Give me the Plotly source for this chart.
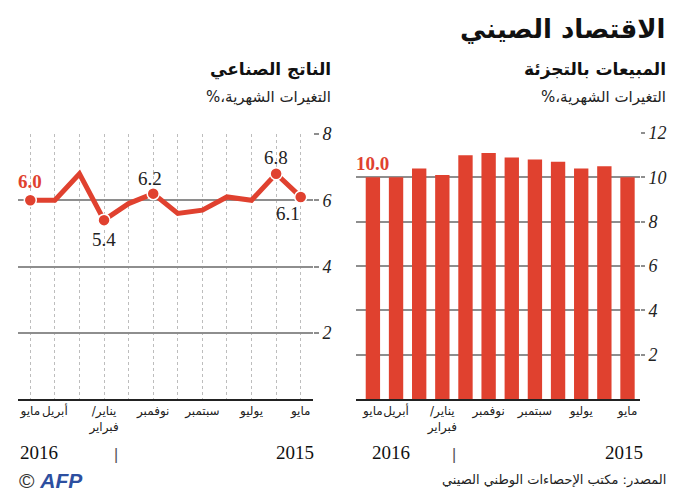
import plotly.graph_objects as go

W, H = 677, 500

# ---------------- data ----------------
months = ["مايو 2016", "أبريل 2016", "مارس 2016", "يناير/فبراير 2016", "ديسمبر 2015",
          "نوفمبر 2015", "أكتوبر 2015", "سبتمبر 2015", "أغسطس 2015", "يوليو 2015",
          "يونيو 2015", "مايو 2015"]
tick_labels = ["مايو", "أبريل", "", "/يناير<br>فبراير", "", "نوفمبر", "",
               "سبتمبر", "", "يوليو", "", "مايو"]
industrial = [6.0, 6.0, 6.8, 5.4, 5.9, 6.2, 5.6, 5.7, 6.1, 6.0, 6.8, 6.1]
retail = [10.0, 10.0, 10.4, 10.1, 11.0, 11.1, 10.9, 10.8, 10.7, 10.4, 10.5, 10.0]
ip_ticks = [2, 4, 6, 8]
retail_ticks = [2, 4, 6, 8, 10, 12]
years = ["2016", "2015"]
title = "الاقتصاد الصيني"
ip_title = "الناتج الصناعي"
retail_title = "المبيعات بالتجزئة"
unit_text = "%،التغيرات الشهرية"
source_text = "المصدر: مكتب الإحصاءات الوطني الصيني"
ip_labeled = [0, 3, 5, 10, 11]

# ---------------- styles ----------------
RED = "#e0412f"
GRID = "#8e8e8e"
ARABIC = "DejaVu Sans"
SERIF = "Liberation Serif"


def px(x):
    return x / W


def py(y):
    return 1 - y / H


fig = go.Figure()

fig.add_trace(go.Scatter(
    x=months, y=industrial, mode="lines",
    line=dict(color=RED, width=5),
    xaxis="x", yaxis="y", hoverinfo="skip", showlegend=False, cliponaxis=False))
fig.add_trace(go.Scatter(
    x=[months[i] for i in ip_labeled], y=[industrial[i] for i in ip_labeled],
    mode="markers",
    marker=dict(color=RED, size=12, line=dict(color="white", width=1.5)),
    xaxis="x", yaxis="y", hoverinfo="skip", showlegend=False, cliponaxis=False))

fig.add_trace(go.Bar(
    x=months, y=retail, marker=dict(color=RED, line=dict(width=0)),
    xaxis="x2", yaxis="y2", hoverinfo="skip", showlegend=False))

tickfont_y = dict(family=SERIF, size=18, color="#222", style="italic")
tickfont_x = dict(family=ARABIC, size=12, color="#222")

fig.update_layout(
    width=W, height=H,
    margin=dict(l=0, r=0, t=0, b=0, autoexpand=False),
    paper_bgcolor="white", plot_bgcolor="white",
    bargap=0.38,
    xaxis=dict(
        domain=[px(18), px(313)], type="category", range=[-0.5, 11.5],
        tickmode="array", tickvals=months, ticktext=tick_labels, tickangle=0,
        showgrid=True, gridcolor="#bdbdbd", griddash="dot", gridwidth=1,
        showline=True, linecolor="#222", linewidth=2, ticks="", automargin=False,
        tickfont=tickfont_x, anchor="y", fixedrange=True, zeroline=False),
    yaxis=dict(
        domain=[py(399), py(134)], range=[0, 8], tickvals=ip_ticks,
        side="right", showgrid=True, gridcolor=GRID, gridwidth=1.5,
        ticks="outside", ticklen=5, tickcolor=GRID, tickwidth=1.5, automargin=False,
        tickfont=tickfont_y, zeroline=False, anchor="x", fixedrange=True),
    xaxis2=dict(
        domain=[px(356), px(640)], type="category", range=[-0.73, 11.54],
        tickmode="array", tickvals=months, ticktext=tick_labels, tickangle=0,
        showgrid=False, showline=True, linecolor="#222", linewidth=2, ticks="",
        automargin=False,
        tickfont=tickfont_x, anchor="y2", fixedrange=True, zeroline=False),
    yaxis2=dict(
        domain=[py(399), py(133)], range=[0, 12], tickvals=retail_ticks,
        side="right", showgrid=True, gridcolor=GRID, gridwidth=1.5,
        ticks="outside", ticklen=4, tickcolor=GRID, tickwidth=1.5, automargin=False,
        tickfont=tickfont_y, zeroline=False, anchor="x2", fixedrange=True),
)

ann = []
# titles
ann.append(dict(text="<b>" + title + "</b>", x=px(668), y=py(29), xanchor="right",
                yanchor="middle", font=dict(family=ARABIC, size=26, color="#111")))
ann.append(dict(text="<b>" + retail_title + "</b>", x=px(668), y=py(69), xanchor="right",
                yanchor="middle", font=dict(family=ARABIC, size=17, color="#111")))
ann.append(dict(text=unit_text, x=px(668), y=py(97), xanchor="right",
                yanchor="middle", font=dict(family=ARABIC, size=15, color="#222")))
ann.append(dict(text="<b>" + ip_title + "</b>", x=px(333), y=py(69), xanchor="right",
                yanchor="middle", font=dict(family=ARABIC, size=17, color="#111")))
ann.append(dict(text=unit_text, x=px(333), y=py(97), xanchor="right",
                yanchor="middle", font=dict(family=ARABIC, size=15, color="#222")))

# data labels: industrial
ip_label_style = {
    0: dict(xs=0, ys=19, color=RED, bold=True),
    3: dict(xs=0, ys=-19, color="#222", bold=False),
    5: dict(xs=-3, ys=15, color="#222", bold=False),
    10: dict(xs=0, ys=16, color="#222", bold=False),
    11: dict(xs=-13, ys=-17, color="#222", bold=False),
}
for i in ip_labeled:
    st = ip_label_style[i]
    t = f"{industrial[i]:.1f}"
    if st["bold"]:
        t = "<b>" + t + "</b>"
    ann.append(dict(text=t, x=months[i], y=industrial[i], xref="x", yref="y",
                    xshift=st["xs"], yshift=st["ys"], xanchor="center", yanchor="middle",
                    font=dict(family=SERIF, size=19, color=st["color"])))
# data label: retail first
ann.append(dict(text="<b>%.1f</b>" % retail[0], x=months[0], y=retail[0], xref="x2", yref="y2",
                yshift=14, xanchor="center", yanchor="middle",
                font=dict(family=SERIF, size=19, color=RED)))

# years
for xa, left_px, right_px in (("x", 18, 316), ("x2", 370, 645)):
    ann.append(dict(text=years[0], x=px(left_px), y=py(452), xanchor="left", yanchor="middle",
                    font=dict(family=SERIF, size=19, color="#111")))
    ann.append(dict(text=years[1], x=px(right_px), y=py(452), xanchor="right", yanchor="middle",
                    font=dict(family=SERIF, size=19, color="#111")))
    ann.append(dict(text="|", x=3.5, xref=xa, y=py(454), xanchor="center", yanchor="middle",
                    font=dict(family="Liberation Sans", size=16, color="#555")))

# source + logo
ann.append(dict(text=source_text, x=px(668), y=py(480), xanchor="right", yanchor="middle",
                font=dict(family=ARABIC, size=13, color="#222")))
ann.append(dict(text="<span style='color:#333'>©</span> <b><i>AFP</i></b>", x=px(17), y=py(480),
                xanchor="left", yanchor="middle",
                font=dict(family="Liberation Sans", size=21, color="#2d4fa0")))

for a in ann:
    a.setdefault("xref", "paper")
    a.setdefault("yref", "paper")
    a.setdefault("showarrow", False)
fig.update_layout(annotations=ann)

fig.write_html("out.html")
